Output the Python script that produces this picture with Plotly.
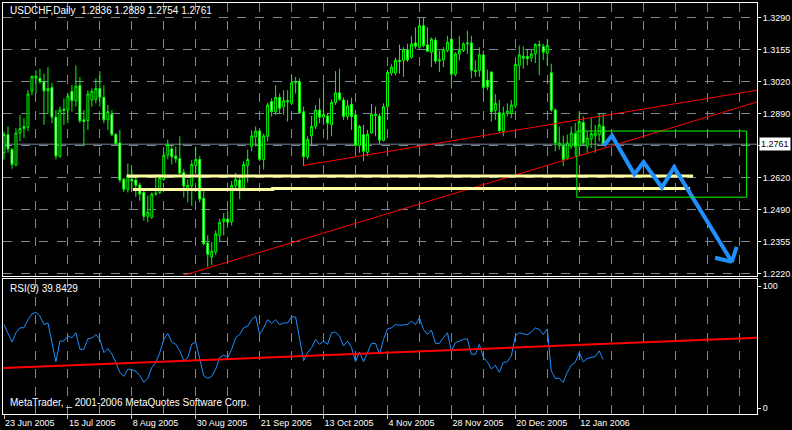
import plotly.graph_objects as go

# ---------------- data ----------------
symbol = "USDCHF,Daily"
bar_index = list(range(151))
opens = [1.2725,1.2801,1.2738,1.2673,1.2808,1.2826,1.2832,1.2983,1.3038,1.3036,
         1.3022,1.2984,1.2998,1.2874,1.2711,1.2902,1.2904,1.2982,1.2943,1.3007,
         1.2863,1.2860,1.2946,1.2948,1.2994,1.2957,1.2863,1.2886,1.2801,1.2766,
         1.2614,1.2572,1.2614,1.2611,1.2590,1.2559,1.2459,1.2455,1.2552,1.2559,
         1.2614,1.2715,1.2741,1.2711,1.2700,1.2642,1.2572,1.2586,1.2672,1.2697,
         1.2534,1.2347,1.2289,1.2310,1.2379,1.2437,1.2448,1.2437,1.2586,1.2611,
         1.2579,1.2672,1.2752,1.2791,1.2816,1.2697,1.2794,1.2940,1.2897,1.2957,
         1.2918,1.2943,1.2932,1.3018,1.3022,1.2897,1.2708,1.2796,1.2835,1.2904,
         1.2874,1.2879,1.2842,1.2935,1.2976,1.2946,1.2877,1.2928,1.2884,1.2755,
         1.2801,1.2727,1.2808,1.2886,1.2879,1.2777,1.2918,1.3059,1.3059,1.3112,
         1.3112,1.3156,1.3125,1.3185,1.3167,1.3257,1.3177,1.3146,1.3197,1.3109,
         1.3114,1.3153,1.3201,1.3054,1.3139,1.3153,1.3181,1.3185,1.3070,1.3070,
         1.3135,1.3029,1.3063,1.2902,1.2893,1.2815,1.2890,1.2890,1.2921,1.3091,
         1.3128,1.3128,1.3123,1.3139,1.3178,1.3170,1.3142,1.3060,1.2904,1.2755,
         1.2752,1.2704,1.2752,1.2805,1.2755,1.2852,1.2752,1.2783,1.2796,1.2801,
         1.2836]
highs = [1.2814,1.2835,1.2745,1.2828,1.2884,1.2870,1.2987,1.3049,1.3070,1.3077,
         1.3056,1.3084,1.3018,1.2904,1.2918,1.2953,1.2973,1.3008,1.3091,1.3043,
         1.2904,1.2987,1.2994,1.3036,1.3067,1.3008,1.2925,1.2904,1.2808,1.2821,
         1.2621,1.2680,1.2655,1.2628,1.2600,1.2565,1.2545,1.2559,1.2635,1.2635,
         1.2727,1.2780,1.2759,1.2752,1.2794,1.2658,1.2614,1.2694,1.2752,1.2711,
         1.2565,1.2379,1.2351,1.2400,1.2448,1.2473,1.2483,1.2607,1.2642,1.2632,
         1.2690,1.2738,1.2819,1.2835,1.2828,1.2805,1.2935,1.2953,1.3008,1.2973,
         1.2987,1.2987,1.3054,1.3043,1.3036,1.2918,1.2794,1.2880,1.2925,1.2953,
         1.3018,1.2890,1.2948,1.3067,1.3077,1.2957,1.2946,1.2955,1.2904,1.2842,
         1.2842,1.2821,1.2929,1.2918,1.2890,1.2932,1.3073,1.3095,1.3123,1.3178,
         1.3167,1.3181,1.3215,1.3250,1.3291,1.3291,1.3250,1.3208,1.3208,1.3153,
         1.3167,1.3215,1.3243,1.3146,1.3215,1.3188,1.3236,1.3215,1.3112,1.3167,
         1.3153,1.3073,1.3066,1.2971,1.2946,1.2918,1.2932,1.2946,1.3098,1.3174,
         1.3170,1.3160,1.3156,1.3184,1.3195,1.3181,1.3201,1.3098,1.2911,1.2835,
         1.2797,1.2801,1.2835,1.2849,1.2897,1.2877,1.2815,1.2870,1.2842,1.2890,
         1.2889]
lows = [1.2697,1.2725,1.2658,1.2669,1.2773,1.2787,1.2815,1.2966,1.2973,1.3015,
        1.2842,1.2890,1.2849,1.2697,1.2704,1.2842,1.2849,1.2897,1.2918,1.2849,
        1.2752,1.2821,1.2918,1.2932,1.2918,1.2849,1.2821,1.2794,1.2759,1.2600,
        1.2561,1.2559,1.2572,1.2541,1.2524,1.2441,1.2434,1.2448,1.2545,1.2552,
        1.2607,1.2697,1.2676,1.2683,1.2635,1.2538,1.2517,1.2503,1.2642,1.2517,
        1.2337,1.2248,1.2255,1.2296,1.2351,1.2379,1.2420,1.2420,1.2572,1.2531,
        1.2572,1.2600,1.2731,1.2752,1.2690,1.2655,1.2773,1.2877,1.2884,1.2890,
        1.2884,1.2856,1.2925,1.2973,1.2890,1.2669,1.2697,1.2752,1.2824,1.2849,
        1.2842,1.2780,1.2794,1.2925,1.2943,1.2863,1.2863,1.2821,1.2752,1.2725,
        1.2690,1.2711,1.2805,1.2794,1.2759,1.2773,1.2863,1.3049,1.3049,1.3056,
        1.3043,1.3105,1.3119,1.3160,1.3160,1.3167,1.3146,1.3084,1.3098,1.3063,
        1.3084,1.3146,1.2994,1.3045,1.3112,1.3146,1.3139,1.3036,1.3043,1.3043,
        1.2966,1.2987,1.2856,1.2863,1.2808,1.2794,1.2877,1.2870,1.2911,1.3029,
        1.3077,1.3091,1.3105,1.3101,1.3049,1.3114,1.3091,1.2897,1.2731,1.2738,
        1.2669,1.2697,1.2741,1.2711,1.2711,1.2759,1.2725,1.2745,1.2725,1.2773,
        1.2754]
closes = [1.2801,1.2741,1.2676,1.2808,1.2826,1.2835,1.2971,1.3045,1.3045,1.3022,
          1.2984,1.2994,1.2874,1.2711,1.2904,1.2907,1.2962,1.2943,1.3004,1.2859,
          1.2856,1.2971,1.2983,1.2994,1.2957,1.2863,1.2897,1.2801,1.2763,1.2611,
          1.2572,1.2631,1.2607,1.2589,1.2552,1.2459,1.2476,1.2552,1.2555,1.2621,
          1.2714,1.2759,1.2708,1.2700,1.2639,1.2586,1.2589,1.2676,1.2697,1.2531,
          1.2344,1.2299,1.2313,1.2386,1.2434,1.2448,1.2434,1.2589,1.2614,1.2575,
          1.2676,1.2697,1.2796,1.2816,1.2697,1.2796,1.2925,1.2897,1.2957,1.2911,
          1.2943,1.2939,1.3018,1.3022,1.2893,1.2708,1.2780,1.2835,1.2904,1.2874,
          1.2886,1.2849,1.2936,1.2976,1.2948,1.2877,1.2921,1.2877,1.2755,1.2835,
          1.2731,1.2803,1.2886,1.2882,1.2777,1.2918,1.3062,1.3084,1.3112,1.3108,
          1.3156,1.3114,1.3181,1.3171,1.3257,1.3174,1.3150,1.3201,1.3109,1.3114,
          1.3156,1.3188,1.3054,1.3139,1.3153,1.3181,1.3184,1.3070,1.3066,1.3135,
          1.2998,1.3001,1.2897,1.2932,1.2818,1.2890,1.2900,1.2925,1.3095,1.3135,
          1.3121,1.3119,1.3139,1.3178,1.3174,1.3146,1.3174,1.2904,1.2766,1.2766,
          1.2697,1.2766,1.2808,1.2752,1.2856,1.2766,1.2787,1.2805,1.2808,1.2842,
          1.2761]
rsi_values = [68.5,61.8,54.2,61.8,65.9,65.9,72.6,77.2,78.6,75.5,
              68.5,69.9,53.7,38.0,55.0,55.0,59.1,57.7,61.8,48.2,
              48.2,56.9,57.5,60.2,56.4,45.5,48.8,44.2,37.4,29.3,
              26.0,32.0,31.4,30.3,26.6,21.1,24.4,33.3,37.4,45.5,
              56.4,61.2,54.2,52.3,46.9,38.8,41.5,52.3,54.2,39.6,
              26.6,24.4,26.0,32.0,41.5,43.4,41.5,48.2,57.7,60.4,
              65.9,67.2,72.6,75.5,60.4,65.9,72.6,69.4,72.6,68.5,
              69.9,69.9,74.8,74.8,57.7,38.8,45.5,49.6,56.4,52.3,
              55.0,52.3,61.8,62.3,59.1,51.0,55.0,49.6,38.0,46.1,
              38.0,45.5,53.1,53.1,44.2,56.4,65.0,65.9,68.5,68.0,
              68.0,68.5,71.3,68.5,74.0,64.5,60.4,64.0,53.1,53.1,
              57.7,61.8,46.9,53.7,55.0,56.4,56.9,44.2,44.2,52.3,
              41.5,38.0,32.0,35.2,29.3,37.4,38.0,42.8,59.1,61.8,
              61.0,60.2,62.3,65.9,64.5,60.4,65.0,30.6,24.4,24.4,
              21.1,29.3,35.2,37.4,45.5,38.0,40.7,41.5,42.3,46.9,
              39.8429]

date_tick_index = [0, 16, 32, 48, 64, 80, 96, 112, 128, 144]
date_tick_text = ["23 Jun 2005", "15 Jul 2005", "8 Aug 2005", "30 Aug 2005", "21 Sep 2005",
                  "13 Oct 2005", "4 Nov 2005", "28 Nov 2005", "20 Dec 2005", "12 Jan 2006"]
price_tick_vals = [1.2220, 1.235375, 1.24875, 1.262125, 1.2755, 1.288875, 1.30225, 1.315625, 1.3290]
price_tick_text = ["1.2220", "1.2355", "1.2490", "1.2620", "", "1.2890", "1.3020", "1.3155", "1.3290"]

# drawn objects (index, price)
trend_upper_x = [75, 188.5]
trend_upper_y = [1.2672, 1.2987]
trend_lower_x = [45, 188.5]
trend_lower_y = [1.2212, 1.2938]
yellow_upper_x = [30.75, 172.5]
yellow_upper_y = [1.2628, 1.2628]
yellow_lower_x = [32.25, 67.25, 67.25, 171.75]
yellow_lower_y = [1.2571, 1.2571, 1.2575, 1.2575]
box_x = [143.4, 185.9]
box_y = [1.2539, 1.2816]
arrow_x = [150.1, 152.2, 157.8, 160.1, 164.7, 167.75, 182.2, 183.4, None, 178.0, 182.2]
arrow_y = [1.2755, 1.27965, 1.26348, 1.26858, 1.25796, 1.2665, 1.22686, 1.23308, None, 1.22852, 1.22686]
rsi_trend_x = [-0.25, 188.5]
rsi_trend_y = [32.8, 57.7]

# ---------------- figure ----------------
GRID = "#778899"
FONT = "Liberation Sans, Arial, sans-serif"
fig = go.Figure()

fig.add_trace(go.Candlestick(
    x=bar_index, open=opens, high=highs, low=lows, close=closes,
    increasing=dict(line=dict(color="#00FF00", width=1), fillcolor="#000000"),
    decreasing=dict(line=dict(color="#00FF00", width=1), fillcolor="#FFFFFF"),
    whiskerwidth=0, xaxis="x", yaxis="y", hoverinfo="skip"))

fig.add_trace(go.Scatter(x=trend_upper_x, y=trend_upper_y, mode="lines",
                         line=dict(color="#FF0000", width=1), xaxis="x", yaxis="y"))
fig.add_trace(go.Scatter(x=trend_lower_x, y=trend_lower_y, mode="lines",
                         line=dict(color="#FF0000", width=1), xaxis="x", yaxis="y"))
fig.add_trace(go.Scatter(x=yellow_upper_x, y=yellow_upper_y, mode="lines",
                         line=dict(color="#FFFFA0", width=3), xaxis="x", yaxis="y"))
fig.add_trace(go.Scatter(x=yellow_lower_x, y=yellow_lower_y, mode="lines",
                         line=dict(color="#FFFFA0", width=3, shape="linear"), xaxis="x", yaxis="y"))
fig.add_trace(go.Scatter(x=arrow_x, y=arrow_y, mode="lines",
                         line=dict(color="#1E90FF", width=4), xaxis="x", yaxis="y"))

fig.add_trace(go.Scatter(x=bar_index, y=rsi_values, mode="lines",
                         line=dict(color="#1E90FF", width=1), xaxis="x2", yaxis="y2"))
fig.add_trace(go.Scatter(x=rsi_trend_x, y=rsi_trend_y, mode="lines",
                         line=dict(color="#FF0000", width=2), xaxis="x2", yaxis="y2"))

fig.add_shape(type="rect", xref="x", yref="y", x0=box_x[0], x1=box_x[1], y0=box_y[0], y1=box_y[1],
              line=dict(color="#00FF00", width=1), fillcolor="rgba(0,0,0,0)")
fig.add_shape(type="line", xref="x domain", yref="y", x0=0, x1=1, y0=closes[-1], y1=closes[-1],
              line=dict(color=GRID, width=1), layer="below")

main_bottom = (417 - 278) / 415
rsi_top = (417 - 281) / 415

fig.update_layout(
    width=792, height=430,
    margin=dict(l=2, r=35, t=2, b=13),
    paper_bgcolor="#000000", plot_bgcolor="#000000",
    showlegend=False, hovermode=False,
    font=dict(family=FONT, color="#FFFFFF", size=10),
    boxgap=0.3,
    xaxis=dict(domain=[0, 1], anchor="y", range=[-0.25, 188.5], rangeslider=dict(visible=False),
               tickmode="linear", tick0=0, dtick=8, showticklabels=False, ticks="",
               showgrid=True, gridcolor=GRID, griddash="dash", gridwidth=1, zeroline=False,
               showline=True, linecolor="#FFFFFF", linewidth=1, mirror=True),
    yaxis=dict(domain=[main_bottom, 1], anchor="x", side="right",
               range=[1.22076, 1.33522], tickmode="array", tickvals=price_tick_vals,
               ticktext=price_tick_text, ticks="outside", ticklen=3, tickcolor="#FFFFFF",
               tickfont=dict(size=9, color="#FFFFFF", family=FONT),
               showgrid=True, gridcolor=GRID, griddash="dash", gridwidth=1, zeroline=False,
               showline=True, linecolor="#FFFFFF", linewidth=1, mirror=True),
    xaxis2=dict(domain=[0, 1], anchor="y2", matches="x", range=[-0.25, 188.5],
                tickmode="array", tickvals=date_tick_index, ticktext=date_tick_text,
                ticks="outside", ticklen=4, tickcolor="#C0C0C0",
                ticklabelposition="outside right",
                tickfont=dict(size=9, color="#FFFFFF", family=FONT),
                showgrid=True, gridcolor=GRID, griddash="dash", gridwidth=1,
                minor=dict(tickmode="linear", tick0=0, dtick=8, showgrid=True,
                           gridcolor=GRID, griddash="dash", gridwidth=1, ticks=""),
                zeroline=False, showline=True, linecolor="#FFFFFF", linewidth=1, mirror=True),
    yaxis2=dict(domain=[0, rsi_top], anchor="x2", side="right", range=[-4.88, 105.69],
                tickmode="array", tickvals=[0, 100], ticktext=["0", "100"],
                ticks="outside", ticklen=3, tickcolor="#FFFFFF",
                tickfont=dict(size=9, color="#FFFFFF", family=FONT),
                showgrid=False, zeroline=False,
                showline=True, linecolor="#FFFFFF", linewidth=1, mirror=True),
)

header = f"{symbol}\u00a0\u00a0{opens[-1]:.4f} {highs[-1]:.4f} {lows[-1]:.4f} {closes[-1]:.4f}"
fig.add_annotation(text=header, xref="paper", yref="paper", x=(7 - 2) / 755, y=(417 - 10) / 415,
                   xanchor="left", yanchor="middle", showarrow=False,
                   font=dict(size=10, color="#FFFFFF", family=FONT))
fig.add_annotation(text=f"RSI(9) {rsi_values[-1]:.4f}", xref="paper", yref="paper",
                   x=(7 - 2) / 755, y=(417 - 290.5) / 415, xanchor="left", yanchor="middle",
                   showarrow=False, font=dict(size=10, color="#FFFFFF", family=FONT))
fig.add_annotation(text="MetaTrader, _ 2001-2006 MetaQuotes Software Corp.", xref="paper", yref="paper",
                   x=(7 - 2) / 755, y=(417 - 405) / 415, xanchor="left", yanchor="middle",
                   showarrow=False, font=dict(size=10, color="#FFFFFF", family=FONT))
fig.add_annotation(text=f"{closes[-1]:.4f}", xref="paper", yref="y", x=1, y=closes[-1],
                   xanchor="left", yanchor="middle", xshift=2, showarrow=False,
                   bgcolor="#FFFFFF", borderpad=1,
                   font=dict(size=9, color="#000000", family=FONT))

fig.write_html("out.html", config={"displayModeBar": False},
               post_script="document.body.style.margin='0';document.body.style.background='#000';")
